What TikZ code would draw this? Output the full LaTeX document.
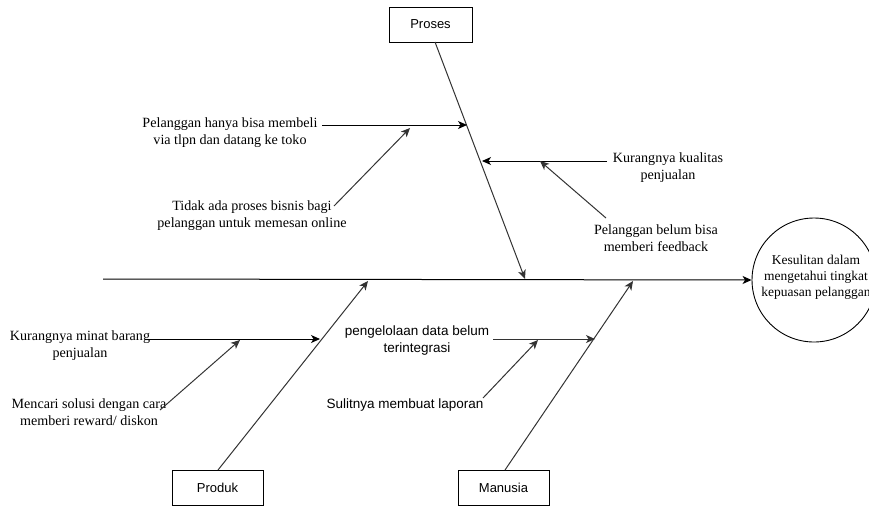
\documentclass[tikz,border=0pt]{standalone}
\usepackage{fontspec}
\setmainfont{Liberation Serif}
\setsansfont{Liberation Sans}
\usetikzlibrary{arrows.meta}
\begin{document}
\begin{tikzpicture}[x=1pt,y=-1pt,
  line width=1pt,
  arr/.style={-{Stealth[length=9pt,width=8pt,inset=2.5pt]}},
  bone/.style={draw=black!80, line width=1pt},
  catbox/.style={draw, line width=0.9pt, minimum width=83pt, minimum height=35pt, font=\sffamily\fontsize{13}{15}\selectfont, inner sep=0pt},
  lbl/.style={align=center, inner sep=0pt, font=\rmfamily\fontsize{14.1}{17}\selectfont},
  slbl/.style={align=center, inner sep=0pt, font=\sffamily\fontsize{13.5}{17}\selectfont}]
\useasboundingbox (0,0) rectangle (869,507);
% head
\node[draw, circle, line width=0.9pt, minimum size=124pt, inner sep=0pt] (head) at (814,280) {};
\node[lbl, font=\rmfamily\fontsize{13.5}{16}\selectfont] (headtxt) at (816,277) {Kesulitan dalam\\mengetahui tingkat\\kepuasan pelanggan};
% spine
\coordinate (tail) at (103,279);
\draw[arr] (tail) -- (head.west);
% category boxes
\node[catbox] (proses) at (430.5,24.5) {Proses};
\node[catbox, minimum width=91pt] (produk) at (217.5,488) {Produk};
\node[catbox, minimum width=91pt] (manusia) at (503.5,488) {Manusia};
% spine points
\coordinate (sp1) at (525,279);
\coordinate (sp2) at (368,281);
\coordinate (sp3) at (633,281);
\coordinate (pstart) at (435,42);
\coordinate (prstart) at (218,470);
\coordinate (mnstart) at (505,470);
\draw[bone, arr] (pstart) -- (sp1);
\draw[bone, arr] (prstart) -- (sp2);
\draw[bone, arr] (mnstart) -- (sp3);
% Proses causes
\node[lbl] (c1) at (230,133) {Pelanggan hanya bisa membeli\\via tlpn dan datang ke toko};
\coordinate (c1s) at (322,125);
\coordinate (c1t) at (467,125);
\draw[arr] (c1s) -- (c1t);
\node[lbl] (c1a) at (252,216) {Tidak ada proses bisnis bagi\\pelanggan untuk memesan online};
\coordinate (c1as) at (334,206);
\coordinate (c1at) at (410,128);
\draw[bone, arr] (c1as) -- (c1at);
\node[lbl] (c2) at (668,168) {Kurangnya kualitas\\penjualan};
\coordinate (c2s) at (607,161);
\coordinate (c2t) at (482,161);
\draw[arr] (c2s) -- (c2t);
\node[lbl] (c2a) at (656,238) {Pelanggan belum bisa\\memberi feedback};
\coordinate (c2as) at (606,218);
\coordinate (c2at) at (540,161);
\draw[bone, arr] (c2as) -- (c2at);
% Produk causes
\node[lbl] (c3) at (80,346) {Kurangnya minat barang\\penjualan};
\coordinate (c3s) at (148,339);
\coordinate (c3t) at (320,339);
\draw[arr] (c3s) -- (c3t);
\node[lbl] (c3a) at (89,412) {Mencari solusi dengan cara\\memberi reward/ diskon};
\coordinate (c3as) at (160,410);
\coordinate (c3at) at (240,340);
\draw[bone, arr] (c3as) -- (c3at);
% Manusia causes
\node[slbl] (c4) at (417,340) {pengelolaan data belum\\terintegrasi};
\coordinate (c4s) at (493,339);
\coordinate (c4t) at (595,339);
\draw[bone, arr] (c4s) -- (c4t);
\node[slbl] (c4a) at (405,405) {Sulitnya membuat laporan};
\coordinate (c4as) at (483,398);
\coordinate (c4at) at (538,340);
\draw[bone, arr] (c4as) -- (c4at);
\end{tikzpicture}
\end{document}
